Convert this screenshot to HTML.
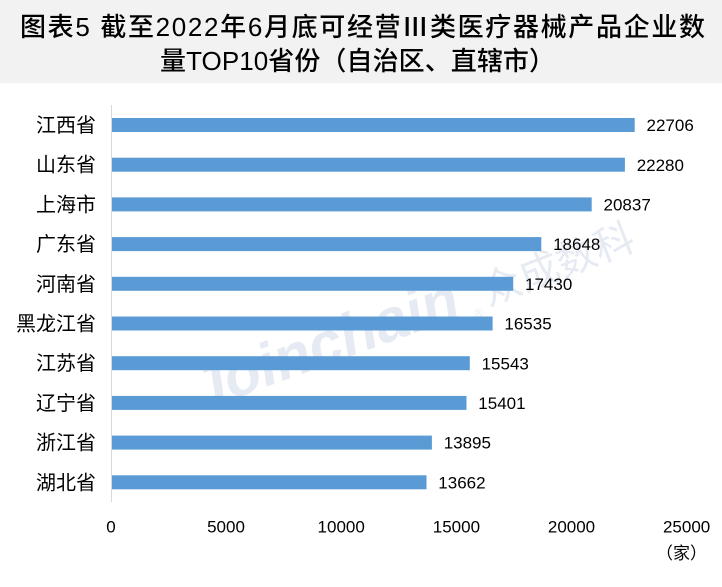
<!DOCTYPE html>
<html>
<head>
<meta charset="utf-8">
<style>
  html, body { margin: 0; padding: 0; background: #ffffff; }
  body { width: 722px; height: 587px; overflow: hidden; }
  svg { display: block; }
  .t { font-family: "Liberation Sans", "Noto Sans CJK SC", sans-serif; }
</style>
</head>
<body>
<svg width="722" height="587" viewBox="0 0 722 587" xmlns="http://www.w3.org/2000/svg">
  <rect x="0" y="0" width="722" height="587" fill="#ffffff"/>
  <!-- title band -->
  <rect x="0" y="0" width="722" height="83" fill="#f2f2f2"/>
  <text class="t" x="20" y="36" font-size="26" font-weight="500" fill="#000" textLength="685" lengthAdjust="spacing">图表5 截至2022年6月底可经营Ⅲ类医疗器械产品企业数</text>
  <text class="t" x="160" y="70" font-size="26" font-weight="500" fill="#000" textLength="395" lengthAdjust="spacing">量TOP10省份（自治区、直辖市）</text>

  <!-- watermark -->
  <g fill="#e6ebf3">
    <text class="t" x="200" y="411" font-size="60" font-weight="bold" font-style="italic" transform="rotate(-20 200 411)">Joinchain</text>
    <text class="t" x="476" y="318" font-size="12" transform="rotate(-20 476 318)">®</text>
    <text class="t" x="488" y="306" font-size="40" transform="rotate(-21 488 306)">众成数科</text>
  </g>

  <!-- axis line -->
  <line x1="111.5" y1="105" x2="111.5" y2="502" stroke="#d9d9d9" stroke-width="1"/>

  <!-- bars -->
  <g fill="#5b9bd5">
    <rect x="112" y="118" width="522.7" height="14"/>
    <rect x="112" y="157.7" width="512.9" height="14"/>
    <rect x="112" y="197.4" width="479.7" height="14"/>
    <rect x="112" y="237.1" width="429.3" height="14"/>
    <rect x="112" y="276.8" width="401.2" height="14"/>
    <rect x="112" y="316.5" width="380.6" height="14"/>
    <rect x="112" y="356.2" width="357.8" height="14"/>
    <rect x="112" y="395.9" width="354.5" height="14"/>
    <rect x="112" y="435.6" width="319.9" height="14"/>
    <rect x="112" y="475.3" width="314.5" height="14"/>
  </g>

  <!-- category labels -->
  <g class="t" font-size="20" fill="#000" text-anchor="end">
    <text x="96" y="132">江西省</text>
    <text x="96" y="171.7">山东省</text>
    <text x="96" y="211.4">上海市</text>
    <text x="96" y="251.1">广东省</text>
    <text x="96" y="290.8">河南省</text>
    <text x="96" y="330.5">黑龙江省</text>
    <text x="96" y="370.2">江苏省</text>
    <text x="96" y="409.9">辽宁省</text>
    <text x="96" y="449.6">浙江省</text>
    <text x="96" y="489.3">湖北省</text>
  </g>

  <!-- data labels -->
  <g class="t" font-size="17" fill="#000">
    <text x="646.5" y="131.1">22706</text>
    <text x="636.7" y="170.8">22280</text>
    <text x="603.5" y="210.5">20837</text>
    <text x="553.1" y="250.2">18648</text>
    <text x="525" y="289.9">17430</text>
    <text x="504.4" y="329.6">16535</text>
    <text x="481.6" y="369.3">15543</text>
    <text x="478.3" y="409">15401</text>
    <text x="443.7" y="448.7">13895</text>
    <text x="438.3" y="488.4">13662</text>
  </g>

  <!-- x tick labels -->
  <g class="t" font-size="17" fill="#000" text-anchor="middle">
    <text x="111" y="532.7">0</text>
    <text x="226" y="532.7">5000</text>
    <text x="341.2" y="532.7">10000</text>
    <text x="456.4" y="532.7">15000</text>
    <text x="571.5" y="532.7">20000</text>
    <text x="686.6" y="532.7">25000</text>
    <text x="681.5" y="559">（家）</text>
  </g>
</svg>
</body>
</html>
